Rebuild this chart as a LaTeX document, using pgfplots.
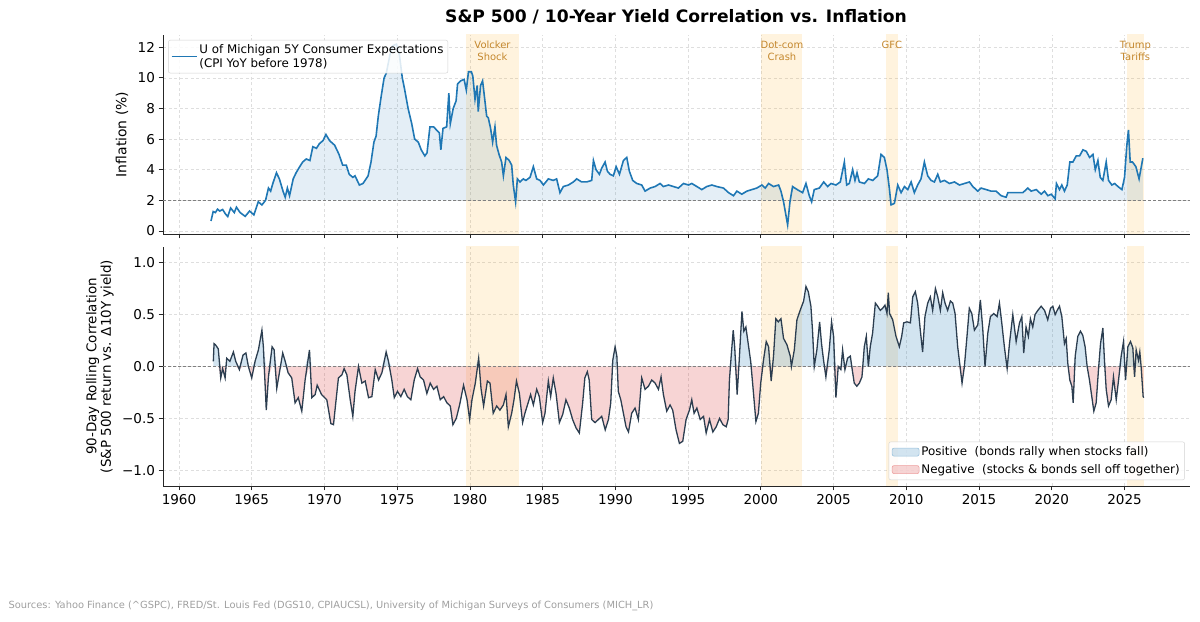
\documentclass[border=0pt]{standalone}
\usepackage{pgfplots}
\pgfplotsset{compat=1.18}
\usepackage{pgfplotstable}
\usepackage{fontspec}
\setmainfont{DejaVu Sans}

\definecolor{tabblue}{HTML}{1F77B4}
\definecolor{navy}{HTML}{2C3E50}
\definecolor{negred}{HTML}{D62728}
\definecolor{bandorange}{RGB}{255,165,0}
\definecolor{evtext}{RGB}{196,135,45}
\definecolor{gridgray}{RGB}{222,222,222}

\pgfplotstableread{
x y
1962.2 0.65
1962.35 1.27
1962.5 1.2
1962.65 1.42
1962.8 1.3
1963.0 1.4
1963.2 1.1
1963.35 0.94
1963.55 1.5
1963.8 1.2
1963.95 1.55
1964.2 1.2
1964.55 0.95
1964.85 1.3
1965.15 1.05
1965.45 1.9
1965.7 1.7
1965.95 2.0
1966.15 2.8
1966.3 2.6
1966.45 3.1
1966.7 3.8
1966.9 3.4
1967.15 2.6
1967.3 2.2
1967.45 2.8
1967.6 2.3
1967.85 3.4
1968.05 3.8
1968.3 4.2
1968.5 4.5
1968.75 4.7
1969.0 4.6
1969.2 5.5
1969.45 5.4
1969.65 5.7
1969.9 5.9
1970.1 6.3
1970.35 5.9
1970.7 5.6
1971.0 5.0
1971.25 4.3
1971.5 4.3
1971.7 3.7
1971.95 3.5
1972.1 3.6
1972.4 3.0
1972.65 3.1
1973.0 3.6
1973.2 4.5
1973.4 5.8
1973.55 6.2
1973.7 7.5
1973.9 8.8
1974.1 10.0
1974.25 10.3
1974.5 11.5
1974.7 12.1
1974.95 12.2
1975.15 11.5
1975.35 10.0
1975.5 9.3
1975.75 8.0
1976.0 7.0
1976.2 6.0
1976.45 5.8
1976.65 5.3
1976.9 4.9
1977.05 5.1
1977.25 6.8
1977.5 6.8
1977.7 6.6
1977.9 6.4
1978.0 5.3
1978.15 6.7
1978.4 6.8
1978.55 9.0
1978.65 7.0
1978.85 8.0
1979.05 8.5
1979.15 9.6
1979.35 9.8
1979.6 9.9
1979.75 9.2
1979.9 10.4
1980.1 10.4
1980.2 10.1
1980.35 8.6
1980.5 9.5
1980.57 7.8
1980.73 9.5
1980.87 9.8
1981.03 8.5
1981.15 7.5
1981.26 7.4
1981.42 6.7
1981.56 5.8
1981.72 6.8
1981.83 5.6
1982.0 5.0
1982.18 4.5
1982.3 3.6
1982.48 4.8
1982.7 4.6
1982.87 4.3
1982.98 3.0
1983.14 1.9
1983.26 3.4
1983.44 3.2
1983.67 3.4
1983.85 3.3
1984.13 3.5
1984.36 4.2
1984.59 3.4
1984.82 3.3
1985.05 3.0
1985.39 3.4
1985.73 3.3
1985.96 3.4
1986.19 2.5
1986.42 2.9
1986.77 3.0
1987.11 3.2
1987.34 3.4
1987.68 3.2
1988.03 3.2
1988.37 3.3
1988.49 4.6
1988.67 4.0
1988.9 3.7
1989.06 4.1
1989.29 4.5
1989.45 3.9
1989.63 3.7
1989.86 3.6
1990.05 4.2
1990.28 3.7
1990.55 4.6
1990.78 4.8
1990.96 3.9
1991.19 3.3
1991.47 3.1
1991.81 3.0
1992.04 2.6
1992.39 2.8
1992.73 2.9
1993.07 3.1
1993.3 2.9
1993.65 3.0
1993.99 2.9
1994.33 2.8
1994.68 3.1
1995.02 3.0
1995.25 3.1
1995.6 2.9
1995.94 2.7
1996.28 2.9
1996.63 3.0
1996.97 2.9
1997.43 2.8
1997.78 2.5
1998.12 2.3
1998.35 2.6
1998.69 2.4
1999.04 2.6
1999.38 2.7
1999.72 2.8
2000.07 3.0
2000.3 2.8
2000.53 3.1
2000.87 2.9
2001.22 3.0
2001.38 2.6
2001.56 1.9
2001.84 0.4
2002.0 1.9
2002.18 2.9
2002.5 2.7
2002.87 2.5
2003.1 3.1
2003.33 2.3
2003.49 1.9
2003.67 2.7
2004.02 2.8
2004.32 3.2
2004.59 2.9
2004.82 3.1
2005.16 3.0
2005.46 3.2
2005.74 4.5
2005.9 3.0
2006.08 3.1
2006.31 4.0
2006.47 3.3
2006.61 3.8
2006.77 3.2
2007.12 3.1
2007.39 3.4
2007.69 3.3
2008.03 3.6
2008.26 5.0
2008.49 4.8
2008.67 4.0
2008.83 2.8
2008.95 1.7
2009.18 1.8
2009.41 3.0
2009.64 2.5
2009.87 2.9
2010.1 2.7
2010.33 3.2
2010.55 2.5
2010.78 3.0
2011.01 3.4
2011.24 4.5
2011.47 3.6
2011.7 3.3
2011.93 3.2
2012.16 3.7
2012.34 3.2
2012.62 3.3
2012.96 3.1
2013.31 3.2
2013.65 3.0
2014.0 3.1
2014.34 3.2
2014.57 2.9
2014.91 2.6
2015.14 2.8
2015.49 2.7
2015.83 2.6
2016.17 2.6
2016.52 2.3
2016.86 2.2
2016.98 2.5
2017.32 2.5
2017.66 2.5
2018.01 2.5
2018.35 2.8
2018.58 2.6
2018.93 2.7
2019.27 2.4
2019.5 2.6
2019.73 2.3
2019.96 2.4
2020.23 2.1
2020.32 3.1
2020.53 2.7
2020.69 3.0
2020.87 2.6
2021.06 3.0
2021.24 4.5
2021.45 4.5
2021.68 4.9
2021.91 4.9
2022.14 5.3
2022.37 5.2
2022.6 4.8
2022.83 5.0
2022.99 4.0
2023.17 4.6
2023.33 3.5
2023.51 3.3
2023.74 4.5
2023.9 3.3
2024.13 3.0
2024.32 3.1
2024.55 2.9
2024.82 2.7
2025.0 3.5
2025.15 5.5
2025.27 6.6
2025.39 4.5
2025.55 4.5
2025.78 4.2
2026.0 3.4
2026.26 4.75
}\inftable

\pgfplotstableread{
x y
1962.36 0.05
1962.41 0.22
1962.5 0.21
1962.7 0.17
1962.87 -0.11
1963.0 -0.02
1963.17 -0.11
1963.28 0.08
1963.5 0.05
1963.74 0.14
1963.9 0.05
1964.15 -0.03
1964.4 0.11
1964.6 0.13
1964.77 0.0
1965.0 -0.11
1965.23 0.05
1965.46 0.16
1965.7 0.35
1965.8 0.19
1966.0 -0.42
1966.15 -0.1
1966.4 0.19
1966.54 0.16
1966.72 -0.21
1966.95 -0.02
1967.13 0.13
1967.3 0.05
1967.5 -0.06
1967.75 -0.11
1967.98 -0.35
1968.2 -0.3
1968.44 -0.43
1968.67 -0.13
1968.97 0.16
1969.13 -0.3
1969.36 -0.27
1969.5 -0.18
1969.8 -0.27
1970.16 -0.32
1970.44 -0.55
1970.62 -0.56
1970.8 -0.32
1970.96 -0.11
1971.2 -0.08
1971.35 -0.02
1971.54 -0.08
1971.77 -0.32
1971.95 -0.48
1972.1 -0.24
1972.34 0.0
1972.57 -0.16
1972.8 -0.14
1973.03 -0.3
1973.26 -0.29
1973.49 -0.03
1973.72 -0.13
1973.95 -0.06
1974.24 0.14
1974.4 0.05
1974.63 -0.13
1974.8 -0.3
1975.02 -0.24
1975.25 -0.29
1975.48 -0.22
1975.7 -0.29
1975.94 -0.32
1976.17 -0.13
1976.4 -0.02
1976.58 -0.1
1976.81 -0.13
1977.04 -0.26
1977.27 -0.16
1977.5 -0.22
1977.73 -0.19
1977.96 -0.32
1978.19 -0.29
1978.42 -0.35
1978.65 -0.38
1978.83 -0.56
1979.06 -0.5
1979.29 -0.37
1979.56 -0.18
1979.8 -0.32
1979.98 -0.51
1980.14 -0.32
1980.37 -0.16
1980.6 0.08
1980.76 -0.21
1980.94 -0.38
1981.2 -0.14
1981.38 -0.16
1981.6 -0.45
1981.84 -0.38
1982.06 -0.42
1982.3 -0.37
1982.48 -0.27
1982.64 -0.58
1982.87 -0.45
1983.03 -0.32
1983.2 -0.14
1983.4 -0.26
1983.62 -0.54
1983.78 -0.45
1984.0 -0.35
1984.17 -0.27
1984.36 -0.37
1984.59 -0.22
1984.77 -0.29
1985.0 -0.54
1985.16 -0.45
1985.39 -0.14
1985.55 -0.29
1985.73 -0.11
1985.92 -0.26
1986.15 -0.54
1986.38 -0.46
1986.6 -0.32
1986.83 -0.4
1987.06 -0.51
1987.29 -0.59
1987.52 -0.64
1987.75 -0.35
1987.9 -0.11
1988.07 -0.05
1988.2 -0.13
1988.37 -0.51
1988.6 -0.54
1988.83 -0.51
1989.06 -0.48
1989.3 -0.61
1989.52 -0.51
1989.68 -0.35
1989.82 0.06
1989.98 0.19
1990.1 0.1
1990.2 -0.24
1990.37 -0.32
1990.55 -0.45
1990.73 -0.58
1990.9 -0.63
1991.12 -0.45
1991.35 -0.4
1991.58 -0.51
1991.81 -0.11
1992.04 -0.22
1992.27 -0.19
1992.5 -0.13
1992.73 -0.16
1992.96 -0.22
1993.14 -0.1
1993.3 -0.27
1993.53 -0.43
1993.76 -0.37
1993.94 -0.42
1994.17 -0.61
1994.4 -0.74
1994.63 -0.72
1994.86 -0.51
1995.09 -0.42
1995.25 -0.32
1995.41 -0.45
1995.6 -0.4
1995.83 -0.51
1996.06 -0.48
1996.24 -0.64
1996.47 -0.51
1996.7 -0.63
1996.93 -0.58
1997.16 -0.5
1997.39 -0.56
1997.62 -0.58
1997.75 -0.51
1997.84 -0.13
1997.96 0.1
1998.1 0.35
1998.2 0.19
1998.37 -0.27
1998.5 0.03
1998.7 0.53
1998.83 0.34
1998.97 0.38
1999.13 0.22
1999.3 0.05
1999.47 -0.22
1999.66 -0.53
1999.83 -0.45
1999.99 -0.16
2000.18 0.06
2000.37 0.24
2000.53 0.19
2000.71 -0.14
2000.87 0.1
2001.03 0.46
2001.2 0.43
2001.38 0.46
2001.56 0.27
2001.79 0.21
2002.02 0.1
2002.1 0.0
2002.3 0.16
2002.48 0.45
2002.7 0.54
2002.94 0.63
2003.1 0.77
2003.26 0.72
2003.44 0.58
2003.55 0.35
2003.67 0.0
2003.85 0.16
2004.04 0.43
2004.17 0.22
2004.31 0.06
2004.47 -0.1
2004.7 0.16
2004.86 0.43
2005.0 0.29
2005.16 -0.3
2005.32 0.0
2005.5 -0.03
2005.62 0.16
2005.78 -0.03
2005.96 0.08
2006.15 0.1
2006.28 -0.03
2006.42 -0.16
2006.6 -0.19
2006.77 -0.16
2006.95 -0.1
2007.11 0.19
2007.25 0.29
2007.39 0.0
2007.52 0.19
2007.68 0.32
2007.87 0.61
2008.03 0.58
2008.21 0.54
2008.37 0.56
2008.53 0.59
2008.67 0.51
2008.76 0.71
2008.85 0.51
2009.06 0.45
2009.29 0.29
2009.52 0.19
2009.68 0.29
2009.82 0.42
2010.05 0.43
2010.28 0.42
2010.44 0.67
2010.62 0.72
2010.78 0.61
2010.96 0.35
2011.12 0.14
2011.28 0.48
2011.47 0.61
2011.65 0.67
2011.81 0.54
2012.0 0.75
2012.16 0.67
2012.34 0.54
2012.5 0.71
2012.66 0.61
2012.84 0.54
2013.03 0.63
2013.19 0.61
2013.35 0.51
2013.53 0.19
2013.72 -0.03
2013.83 -0.16
2013.99 0.0
2014.17 0.29
2014.33 0.56
2014.5 0.51
2014.68 0.35
2014.91 0.4
2015.09 0.64
2015.25 0.37
2015.41 0.0
2015.6 0.32
2015.78 0.48
2016.01 0.51
2016.24 0.48
2016.4 0.61
2016.56 0.42
2016.74 0.19
2016.93 -0.02
2017.09 0.22
2017.32 0.5
2017.55 0.24
2017.78 0.42
2017.94 0.48
2018.07 0.13
2018.23 0.38
2018.39 0.29
2018.53 0.46
2018.69 0.38
2018.85 0.5
2019.04 0.54
2019.27 0.58
2019.5 0.54
2019.72 0.45
2019.91 0.56
2020.07 0.58
2020.23 0.5
2020.37 0.54
2020.53 0.58
2020.69 0.48
2020.87 0.22
2020.99 0.27
2021.1 0.03
2021.24 -0.13
2021.38 -0.19
2021.47 -0.35
2021.61 0.1
2021.79 0.29
2021.97 0.34
2022.13 0.3
2022.29 0.19
2022.43 0.0
2022.59 -0.13
2022.75 -0.29
2022.89 -0.43
2023.05 -0.35
2023.21 -0.03
2023.35 0.22
2023.51 0.37
2023.62 0.06
2023.74 -0.22
2023.9 -0.38
2024.08 -0.32
2024.24 -0.1
2024.43 -0.32
2024.59 -0.13
2024.77 0.1
2024.93 0.24
2025.07 -0.13
2025.23 0.19
2025.41 0.24
2025.57 0.18
2025.69 -0.1
2025.8 0.16
2025.96 0.06
2026.05 0.14
2026.14 0.0
2026.28 -0.29
2026.32 -0.3
}\corrtable

\pgfplotsset{
  base/.style={
    scale only axis, width=1027bp, anchor=south west,
    xmin=1958.9, xmax=2029.5,
    axis x line*=bottom, axis y line*=left,
    x axis line style={-}, y axis line style={-},
    axis line style={black!85, line width=0.9bp},
    tick align=outside, major tick length=4.5bp,
    tick style={black!85, line width=0.8bp},
    xtick={1960,1965,...,2025},
    grid=major,
    major grid style={gridgray, line width=0.6bp, dash pattern=on 3bp off 2.5bp},
    tick label style={font=\fontsize{13.6}{16}\selectfont},
    /pgf/number format/assume math mode=true,
    /pgf/number format/1000 sep={},
    clip=true,
  },
  band/.style={draw=none, fill=bandorange, fill opacity=0.13, forget plot},
}
\tikzset{evlabel/.style={text=evtext, align=center, anchor=north, font=\fontsize{10}{12}\selectfont}}

\begin{document}
\begin{tikzpicture}

\node[font=\bfseries\fontsize{17.2}{20}\selectfont] at (676bp,605bp) {S\&P 500 / 10-Year Yield Correlation vs. Inflation};

% ---------------- top panel ----------------
\begin{axis}[base, at={(163bp,388bp)}, height=199bp,
  ymin=-0.2, ymax=12.8, ytick={0,2,...,12}, xticklabels={},
  ylabel={Inflation (\%)},
  every axis y label/.style={at={(axis description cs:-0.04,0.5)}, rotate=90, anchor=center, font=\fontsize{14}{16}\selectfont},
  legend style={at={(axis description cs:0.005,0.975)}, anchor=north west,
    draw=black!18, fill=white, fill opacity=0.85, text opacity=1, rounded corners=2bp,
    font=\fontsize{11.9}{13.5}\selectfont, cells={align=left}, inner sep=2.5bp},
  legend cell align=left,
  legend image code/.code={\draw[#1] (0bp,0bp) -- (25bp,0bp);},
]
\addplot[band] coordinates {(1979.7,-1) (1979.7,14) (1983.4,14) (1983.4,-1)};
\addplot[band] coordinates {(2000.0,-1) (2000.0,14) (2002.85,14) (2002.85,-1)};
\addplot[band] coordinates {(2008.6,-1) (2008.6,14) (2009.4,14) (2009.4,-1)};
\addplot[band] coordinates {(2025.15,-1) (2025.15,14) (2026.35,14) (2026.35,-1)};

% area above the 2% line
\addplot[fill=tabblue, fill opacity=0.12, draw=none, forget plot]
  table[x=x, y expr={max(\thisrow{y},2)}] {\inftable}
  -- (axis cs:2026.26,2) -- (axis cs:1962.2,2) -- cycle;
\addplot[black!50, line width=0.7bp, dash pattern=on 3bp off 2bp, forget plot] coordinates {(1958.9,2) (2029.5,2)};
\addplot[tabblue, line width=1.6bp] table[x=x,y=y] {\inftable};
\addlegendentry{U of Michigan 5Y Consumer Expectations\\(CPI YoY before 1978)}

\node[evlabel] at (axis cs:1981.55,12.65) {Volcker\\Shock};
\node[evlabel] at (axis cs:2001.45,12.65) {Dot-com\\Crash};
\node[evlabel] at (axis cs:2009.0,12.65) {GFC};
\node[evlabel] at (axis cs:2025.75,12.65) {Trump\\Tariffs};
\end{axis}

% ---------------- bottom panel ----------------
\begin{axis}[base, at={(163bp,136bp)}, height=239bp,
  ymin=-1.15, ymax=1.15, ytick={-1,-0.5,0,0.5,1},
  yticklabels={−1.0,−0.5,0.0,0.5,1.0},
  ylabel={90-Day Rolling Correlation\\(S\&P 500 return vs. Δ10Y yield)},
  every axis y label/.style={at={(axis description cs:-0.0615,0.5)}, rotate=90, anchor=center, align=center, font=\fontsize{13.5}{14.5}\selectfont},
  legend style={at={(axis description cs:0.995,0.025)}, anchor=south east,
    draw=black!18, fill=white, fill opacity=0.85, text opacity=1, rounded corners=2bp,
    font=\fontsize{11.9}{13.5}\selectfont, inner sep=3bp, row sep=3bp},
  legend cell align=left,
]
\addplot[band] coordinates {(1979.7,-2) (1979.7,2) (1983.4,2) (1983.4,-2)};
\addplot[band] coordinates {(2000.0,-2) (2000.0,2) (2002.85,2) (2002.85,-2)};
\addplot[band] coordinates {(2008.6,-2) (2008.6,2) (2009.4,2) (2009.4,-2)};
\addplot[band] coordinates {(2025.15,-2) (2025.15,2) (2026.35,2) (2026.35,-2)};

% positive and negative areas
\addplot[fill=tabblue, fill opacity=0.2, draw=none, forget plot]
  table[x=x, y expr={max(\thisrow{y},0)}] {\corrtable}
  -- (axis cs:2026.32,0) -- (axis cs:1962.36,0) -- cycle;
\addplot[fill=negred, fill opacity=0.2, draw=none, forget plot]
  table[x=x, y expr={min(\thisrow{y},0)}] {\corrtable}
  -- (axis cs:2026.32,0) -- (axis cs:1962.36,0) -- cycle;
\addplot[black!50, line width=0.7bp, dash pattern=on 3bp off 2bp, forget plot] coordinates {(1958.9,0) (2029.5,0)};
\addplot[navy, line width=1.3bp, forget plot] table[x=x,y=y] {\corrtable};

\addlegendimage{legend image code/.code={\draw[fill=tabblue, fill opacity=0.2, draw=tabblue!45, line width=0.6bp] (-2bp,-4bp) rectangle (25bp,4bp);}}
\addlegendentry{Positive\ \ (bonds rally when stocks fall)}
\addlegendimage{legend image code/.code={\draw[fill=negred, fill opacity=0.2, draw=negred!45, line width=0.6bp] (-2bp,-4bp) rectangle (25bp,4bp);}}
\addlegendentry{Negative\ \ (stocks \& bonds sell off together)}
\end{axis}

\node[anchor=west, text=gray!75, font=\fontsize{9.9}{11}\selectfont] at (5bp,16bp)
 {Sources: Yahoo Finance (\textasciicircum GSPC), FRED/St. Louis Fed (DGS10, CPIAUCSL), University of Michigan Surveys of Consumers (MICH\_LR)};

\pgfresetboundingbox
\path[use as bounding box] (0,0) rectangle (1200bp,622bp);
\end{tikzpicture}
\end{document}
